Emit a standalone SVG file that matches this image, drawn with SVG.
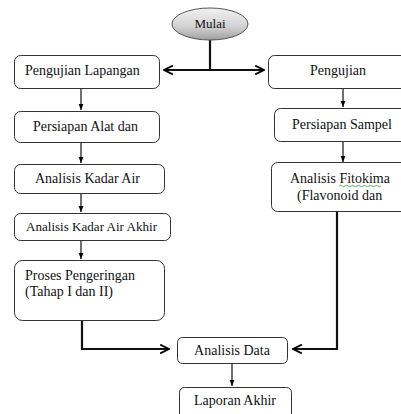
<svg xmlns="http://www.w3.org/2000/svg" width="401" height="414" viewBox="0 0 401 414">
<defs>
<linearGradient id="g" x1="0" y1="0" x2="0" y2="1">
<stop offset="0" stop-color="#f2f2f2"/>
<stop offset="0.6" stop-color="#d0d0d0"/>
<stop offset="1" stop-color="#a0a0a0"/>
</linearGradient>
<marker id="open" viewBox="0 0 10 10" refX="9" refY="5" markerWidth="5" markerHeight="5" orient="auto-start-reverse" markerUnits="strokeWidth">
<path d="M1,1 L9,5 L1,9" fill="none" stroke="#000" stroke-width="1.6"/>
</marker>
<marker id="tri" viewBox="0 0 10 10" refX="10" refY="5" markerWidth="6" markerHeight="6" orient="auto" markerUnits="userSpaceOnUse">
<path d="M0,1 L10,5 L0,9 Z" fill="#000"/>
</marker>
</defs>
<rect width="401" height="414" fill="#fff"/>
<g id="connectors" fill="none" stroke="#111">
<path stroke-width="2.2" d="M210,40 V70"/>
<path stroke-width="2.2" d="M164,70 H264" marker-start="url(#open)" marker-end="url(#open)"/>
<path stroke-width="1.2" d="M81,88 V110" marker-end="url(#tri)"/>
<path stroke-width="1.2" d="M81,142 V163" marker-end="url(#tri)"/>
<path stroke-width="1.2" d="M81,193 V212" marker-end="url(#tri)"/>
<path stroke-width="1.2" d="M81,240 V259" marker-end="url(#tri)"/>
<path stroke-width="1.2" d="M343,88 V107" marker-end="url(#tri)"/>
<path stroke-width="1.2" d="M343,141 V162" marker-end="url(#tri)"/>
<path stroke-width="2.2" d="M82,321 V349 H169" marker-end="url(#open)"/>
<path stroke-width="2.2" d="M337,212 V349 H293" marker-end="url(#open)"/>
<path stroke-width="1.2" d="M232,363 V386" marker-end="url(#tri)"/>
</g>
<g font-family="Liberation Serif" font-size="14" fill="#111">
<g id="mulai">
<ellipse cx="210" cy="24" rx="38" ry="16" fill="url(#g)" stroke="#555" stroke-width="1"/>
<text x="210" y="28" text-anchor="middle" font-family="Liberation Serif" font-size="13">Mulai</text>
</g>
<g id="pengujian-lapangan">
<rect x="14.5" y="55.5" width="145" height="33" rx="6" fill="#fff" stroke="#333"/>
<text x="25" y="75" font-family="Liberation Serif">Pengujian Lapangan</text>
</g>
<g id="pengujian">
<rect x="268.5" y="55.5" width="145" height="33" rx="6" fill="#fff" stroke="#333"/>
<text x="338" y="75" text-anchor="middle" font-family="Liberation Serif">Pengujian</text>
</g>
<g id="persiapan-alat">
<rect x="14.5" y="111.5" width="145" height="31" rx="6" fill="#fff" stroke="#333"/>
<text x="33" y="131" font-family="Liberation Serif">Persiapan Alat dan</text>
</g>
<g id="persiapan-sampel">
<rect x="274.5" y="108.5" width="140" height="33" rx="6" fill="#fff" stroke="#333"/>
<text x="292" y="129" font-family="Liberation Serif">Persiapan Sampel</text>
</g>
<g id="analisis-kadar-air">
<rect x="14.5" y="164.5" width="150" height="29" rx="6" fill="#fff" stroke="#333"/>
<text x="35" y="183" font-family="Liberation Serif">Analisis Kadar Air</text>
</g>
<g id="analisis-fitokima">
<rect x="271.5" y="162.5" width="140" height="49" rx="6" fill="#fff" stroke="#333"/>
<text x="290" y="183" font-family="Liberation Serif">Analisis Fitokima</text>
<path d="M339,186 q1.5,-1.5 3,0 t3,0 t3,0 t3,0 t3,0 t3,0 t3,0 t3,0 t3,0 t3,0 t3,0 t3,0 t3,0 t3,0" fill="none" stroke="#3a9a3a" stroke-width="0.8"/>
<text x="297" y="200" font-family="Liberation Serif">(Flavonoid dan</text>
</g>
<g id="analisis-kadar-air-akhir">
<rect x="14.5" y="213.5" width="156" height="27" rx="6" fill="#fff" stroke="#333"/>
<text x="26" y="231" font-family="Liberation Serif" font-size="12.5" textLength="131" lengthAdjust="spacingAndGlyphs">Analisis Kadar Air Akhir</text>
</g>
<g id="proses-pengeringan">
<rect x="14.5" y="260.5" width="150" height="60" rx="8" fill="#fff" stroke="#333"/>
<text x="25" y="280" font-family="Liberation Serif">Proses Pengeringan</text>
<text x="25" y="296" font-family="Liberation Serif">(Tahap I dan II)</text>
</g>
<g id="analisis-data">
<rect x="177.5" y="337.5" width="110" height="26" rx="5" fill="#fff" stroke="#333"/>
<text x="232" y="355" text-anchor="middle" font-family="Liberation Serif">Analisis Data</text>
</g>
<g id="laporan-akhir">
<rect x="179.5" y="387.5" width="112" height="33" rx="5" fill="#fff" stroke="#333"/>
<text x="235" y="405" text-anchor="middle" font-family="Liberation Serif">Laporan Akhir</text>
</g>
</g>
</svg>
